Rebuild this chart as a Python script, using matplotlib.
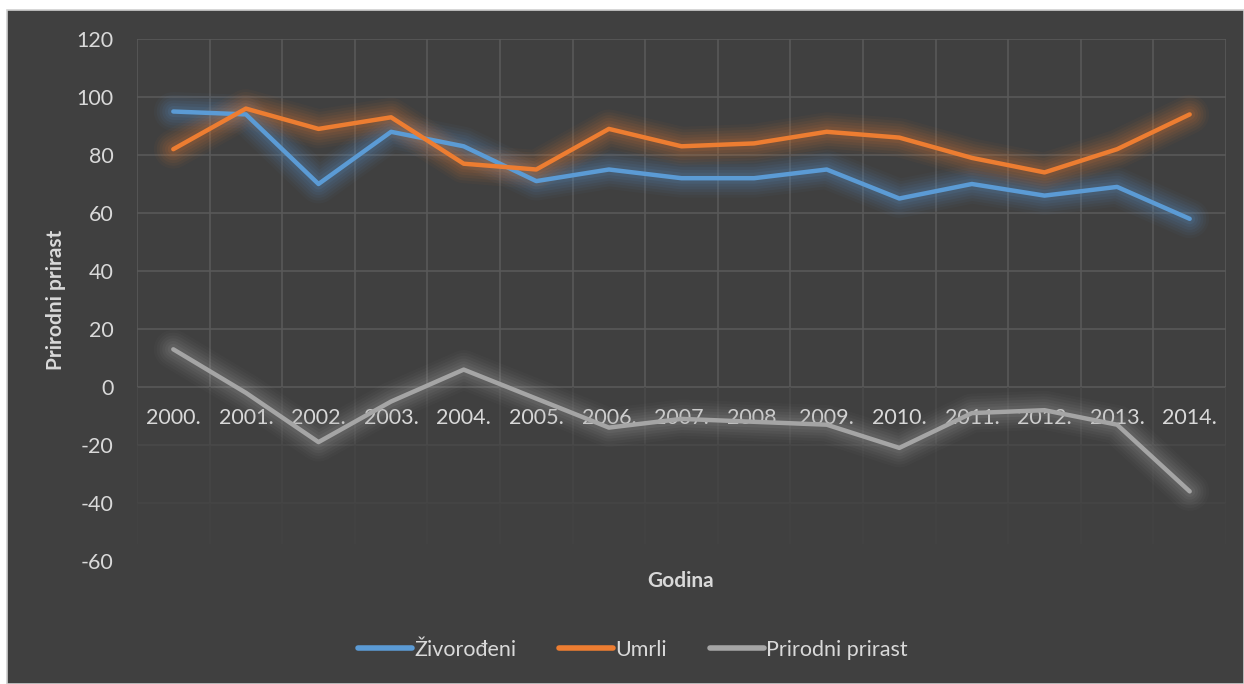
import matplotlib
matplotlib.use("Agg")
import matplotlib.pyplot as plt
from matplotlib.patches import Rectangle

years = ["2000.", "2001.", "2002.", "2003.", "2004.", "2005.", "2006.", "2007.",
         "2008.", "2009.", "2010.", "2011.", "2012.", "2013.", "2014."]
zivorodeni = [95, 94, 70, 88, 83, 71, 75, 72, 72, 75, 65, 70, 66, 69, 58]
umrli = [82, 96, 89, 93, 77, 75, 89, 83, 84, 88, 86, 79, 74, 82, 94]
prirodni_prirast = [13, -2, -19, -5, 6, -4, -14, -11, -12, -13, -21, -9, -8, -13, -36]
series_names = ["Živorođeni", "Umrli", "Prirodni prirast"]
yticks = [-60, -40, -20, 0, 20, 40, 60, 80, 100, 120]

plt.rcParams['font.family'] = ['Lato', 'DejaVu Sans']
plt.rcParams['axes.unicode_minus'] = False
BG = "#404040"
TXT = "#D9D9D9"
colors = ["#5B9BD5", "#ED7D31", "#A5A5A5"]

W, H = 1244, 684
fig = plt.figure(figsize=(W / 100, H / 100), dpi=100, facecolor="white")
fig.patches.append(Rectangle((7 / W, 0), 1 - 7 / W, 1 - 10 / H, transform=fig.transFigure,
                             facecolor=BG, edgecolor="#D0D0D0", linewidth=1.2, zorder=-10))

ax = fig.add_axes([137 / W, 1 - 561 / H, (1226 - 137) / W, (561 - 39) / H])
ax.set_facecolor(BG)
ax.patch.set_alpha(0)
n = len(years)
x = list(range(n))
ax.set_xlim(-0.5, n - 0.5)
ax.set_ylim(-60, 120)

# gridlines
for yv in yticks:
    if yv >= 0:
        ax.axhline(yv, color="#595959", lw=1.2, zorder=1)
    elif yv > -60:
        ax.axhline(yv, color="#494949" if yv == -20 else "#454545", lw=1.2, zorder=1)
for xb in [i - 0.5 for i in range(n + 1)]:
    ax.vlines(xb, 0, 120, color="#595959", lw=1.2, zorder=1)
    ax.vlines(xb, -20, 0, color="#4a4a4a", lw=1.2, zorder=1)
    ax.vlines(xb, -40, -20, color="#464646", lw=1.2, zorder=1)
    ax.vlines(xb, -54, -40, color="#434343", lw=1.2, zorder=1)

data = [zivorodeni, umrli, prirodni_prirast]
for vals, c in zip(data, colors):
    for w, a in [(28, 0.04), (24, 0.05), (20, 0.06), (16, 0.07), (12, 0.08), (8, 0.1)]:
        ax.plot(x, vals, color=c, lw=w, alpha=a, solid_capstyle="round",
                solid_joinstyle="round", zorder=2)
handles = []
for vals, c, name in zip(data, colors, series_names):
    ln, = ax.plot(x, vals, color=c, lw=3.2, solid_capstyle="round",
                  solid_joinstyle="round", zorder=3, label=name)
    handles.append(ln)

for s in ax.spines.values():
    s.set_visible(False)
ax.spines['bottom'].set_position(('data', 0))
ax.set_xticks(x)
ax.set_xticklabels(years)
ax.set_yticks(yticks)
ax.tick_params(axis="x", length=0, pad=15, labelsize=15.5, colors=TXT)
ax.tick_params(axis="y", length=0, pad=17, labelsize=15.5, colors=TXT)

fig.text(56 / W, 1 - 300 / H, "Prirodni prirast", rotation=90, ha="center", va="center",
         fontsize=15, fontweight="bold", color=TXT)
fig.text(681 / W, 1 - 581 / H, "Godina", ha="center", va="center",
         fontsize=15, fontweight="bold", color=TXT)

leg = fig.legend(handles=handles, labels=series_names, loc="center", ncol=3,
                 bbox_to_anchor=(633 / W, 1 - 650 / H), frameon=False, fontsize=15.5,
                 handlelength=2.5, handletextpad=0.1, columnspacing=2.0, labelcolor=TXT)
for h in leg.legend_handles:
    h.set_linewidth(4)

fig.savefig("out.png", dpi=100, facecolor="white")
